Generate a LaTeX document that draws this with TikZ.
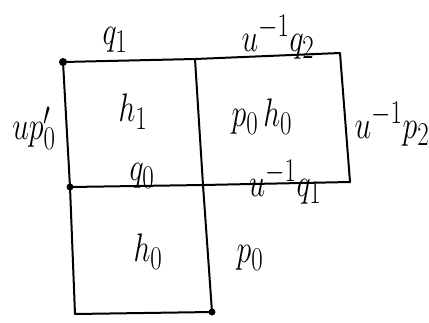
\documentclass[tikz,border=0pt]{standalone}
\newcommand{\hw}[1]{\scalebox{1.2}[1.6]{$#1$}}
\begin{document}
\begin{tikzpicture}[x=1pt,y=-1pt,
  edge/.style={line width=2pt,line cap=round,line join=round},
  lab/.style={inner sep=0pt,font=\Huge},
  pt/.style={circle,fill,inner sep=0pt,minimum size=8pt}]
\useasboundingbox (0,0) rectangle (429,322);
% corners
\coordinate (a) at (63,62);
\coordinate (b) at (195,59);
\coordinate (c) at (340,53);
\coordinate (d) at (70,187);
\coordinate (e) at (203,185);
\coordinate (f) at (350,182);
\coordinate (g) at (75,314);
\coordinate (h) at (212,312);
% edges
\draw[edge] (a) -- (b) -- (c) -- (f);
\draw[edge] (a) -- (d) -- (g) -- (h);
\draw[edge] (b) -- (e) -- (h);
\draw[edge] (d) -- (e) -- (f);
% dots
\node[pt] (pa) at (a) {};
\node[pt,minimum size=7pt] (pd) at (d) {};
\node[pt,minimum size=7pt] (ph) at (h) {};
% labels
\node[lab] (q1) at (115,40) {\hw{q_1}};
\node[lab] (uq2) at (278,37) {\hw{u^{-1}q_2}};
\node[lab] (up0) at (34,128) {\hw{up_0'}};
\node[lab] (h1) at (133,112) {\hw{h_1}};
\node[lab] (ph0) at (262,117) {\hw{p_0\,h_0}};
\node[lab] (up2) at (392,124) {\hw{u^{-1}p_2}};
\node[lab] (q0) at (142,176) {\hw{q_0}};
\node[lab] (uq1) at (285,182) {\hw{u^{-1}q_1}};
\node[lab] (h0) at (148,252) {\hw{h_0}};
\node[lab] (p0) at (250,258) {\hw{p_0}};
\end{tikzpicture}
\end{document}
